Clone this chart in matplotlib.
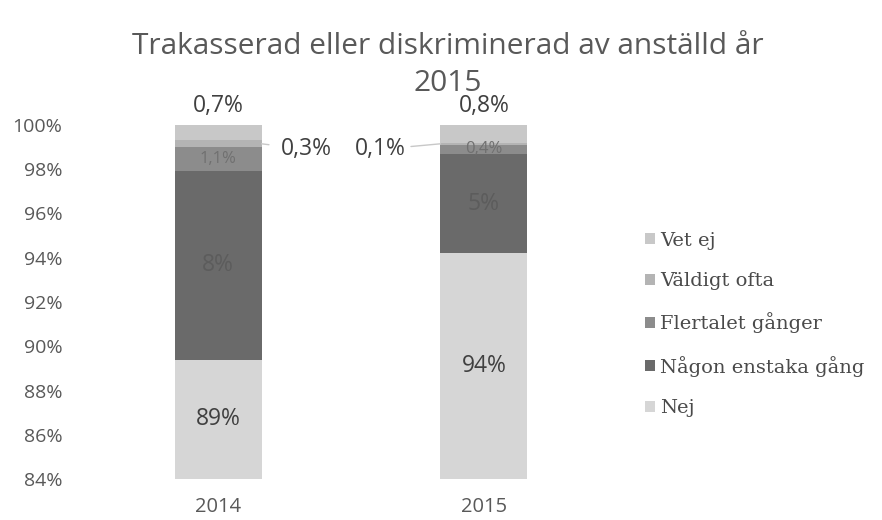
import numpy as np
from matplotlib import pyplot as plt

years = ['2014', '2015']
categories = ['Nej', 'Någon enstaka gång', 'Flertalet gånger', 'Väldigt ofta', 'Vet ej']
nej = [89.4, 94.2]
enstaka = [8.5, 4.5]
flertalet = [1.1, 0.4]
valdigt_ofta = [0.3, 0.1]
vet_ej = [0.7, 0.8]
labels = {
    'Nej': ['89%', '94%'],
    'Någon enstaka gång': ['8%', '5%'],
    'Flertalet gånger': ['1,1%', '0,4%'],
    'Väldigt ofta': ['0,3%', '0,1%'],
    'Vet ej': ['0,7%', '0,8%'],
}
yticks = [84, 86, 88, 90, 92, 94, 96, 98, 100]

colors = ['#d6d6d6', '#6a6a6a', '#8c8c8c', '#b4b4b4', '#c8c8c8']
series = [nej, enstaka, flertalet, valdigt_ofta, vet_ej]

fig = plt.figure(figsize=(8.82, 5.2), dpi=100)
ax = fig.add_axes([75 / 882, 1 - 479 / 520, (627 - 75) / 882, (479 - 125) / 520])
ax.set_ylim(84, 100)
ax.set_xlim(-0.538, 1.538)

x = np.arange(len(years))
width = 0.327
bottom = np.zeros(len(years))
bars = []
for cat, vals, col in zip(categories, series, colors):
    ax.bar(x, vals, width, bottom=bottom, color=col, label=cat, zorder=2)
    bars.append((cat, vals, bottom.copy()))
    bottom = bottom + np.array(vals)

txt_kw = dict(fontfamily='Open Sans', ha='center', va='center')
# callout offsets for the tiny "Väldigt ofta" segments
callout_dx = [0.334, -0.391]
callout_shrink = [7, 2]
for cat, vals, bot in bars:
    for i in range(len(years)):
        lo = max(bot[i], 84)
        hi = min(bot[i] + vals[i], 100)
        mid = (lo + hi) / 2
        lab = labels[cat][i]
        if cat == 'Nej':
            ax.text(x[i], mid, lab, fontsize=16.5, color='#404040', **txt_kw)
        elif cat == 'Någon enstaka gång':
            ax.text(x[i], mid, lab, fontsize=16.5, color='#5c5c5c', **txt_kw)
        elif cat == 'Flertalet gånger':
            ax.text(x[i], mid, lab, fontsize=12, color='#707070', **txt_kw)
        elif cat == 'Vet ej':
            ax.text(x[i], 100.85, lab, fontsize=16.5, color='#404040',
                    clip_on=False, **txt_kw)
        else:
            side = 1 if i == 0 else -1
            ax.annotate(lab, xy=(x[i] + side * width / 2, mid),
                        xytext=(x[i] + callout_dx[i], mid - 0.25),
                        fontsize=16.5, color='#404040', fontfamily='Open Sans',
                        ha='center', va='center',
                        arrowprops=dict(arrowstyle='-', color='#c8c8c8', lw=1,
                                        shrinkA=callout_shrink[i], shrinkB=0))

ax.set_yticks(yticks)
ax.set_yticklabels([f'{t}%' for t in yticks], fontfamily='Open Sans', fontsize=14, color='#595959')
ax.set_xticks(x)
ax.set_xticklabels(years, fontfamily='Open Sans', fontsize=14.5, color='#595959')
ax.tick_params(axis='y', length=0, pad=9)
ax.tick_params(axis='x', length=0, pad=13)
for s in ax.spines.values():
    s.set_visible(False)

fig.text(0.508, 0.91, 'Trakasserad eller diskriminerad av anställd år',
         fontfamily='Open Sans', fontsize=21.5, color='#595959', ha='center', va='center')
fig.text(0.508, 0.84, '2015', fontfamily='Open Sans', fontsize=21.5, color='#595959',
         ha='center', va='center')

handles, labs = ax.get_legend_handles_labels()
leg = fig.legend(handles[::-1], labs[::-1], loc='center left', bbox_to_anchor=(0.712, 0.376),
                 frameon=False, handlelength=0.5, handleheight=0.5, handletextpad=0.25,
                 labelspacing=1.15, prop={'family': 'DejaVu Serif', 'size': 14})
for t in leg.get_texts():
    t.set_color('#4a4a4a')

fig.savefig('out.png', dpi=100)
